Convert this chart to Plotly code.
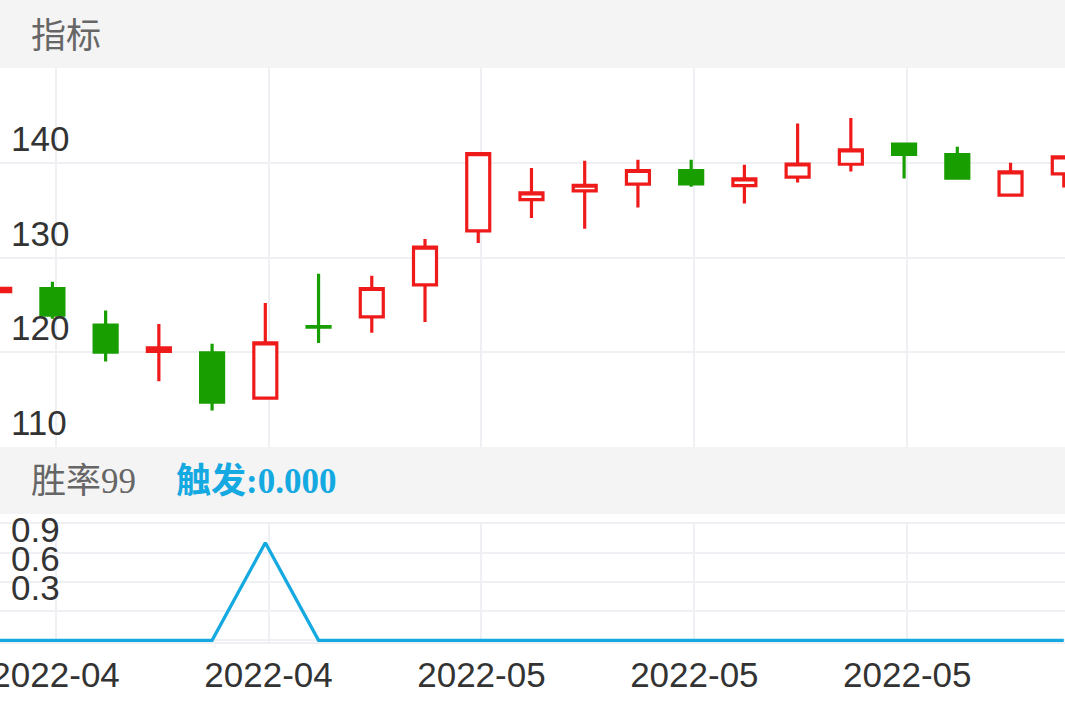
import plotly.graph_objects as go

# ---- data ----
dates = ["2022-04-19", "2022-04-20", "2022-04-21", "2022-04-22", "2022-04-25",
         "2022-04-26", "2022-04-27", "2022-04-28", "2022-04-29", "2022-05-05",
         "2022-05-06", "2022-05-09", "2022-05-10", "2022-05-11", "2022-05-12",
         "2022-05-13", "2022-05-16", "2022-05-17", "2022-05-18", "2022-05-19",
         "2022-05-20"]
opens = [126.40, 126.73, 122.85, 120.07, 119.92, 115.13, 122.70, 123.73, 127.11, 132.82,
         136.14, 137.05, 137.76, 139.21, 137.62, 138.50, 139.87, 141.99, 140.90, 136.60,
         138.85]
highs = [126.80, 127.45, 124.40, 122.98, 120.89, 125.20, 128.30, 128.08, 131.96, 141.00,
         139.47, 140.24, 140.35, 140.35, 139.82, 144.19, 144.76, 142.00, 141.72, 140.03,
         140.65]
lows = [126.40, 123.54, 119.02, 116.91, 113.84, 115.13, 120.97, 122.06, 123.20, 131.54,
        134.18, 133.05, 135.31, 137.49, 135.73, 137.95, 139.11, 138.37, 138.39, 136.60,
        137.42]
closes = [126.76, 123.91, 120.00, 120.45, 114.71, 120.98, 122.65, 126.73, 131.10, 141.00,
          136.84, 137.65, 139.21, 137.79, 138.32, 139.90, 141.39, 140.90, 138.39, 139.06,
          140.65]
win_rate = [0, 0, 0, 0, 0, 1.0, 0, 0, 0, 0, 0, 0, 0, 0, 0, 0, 0, 0, 0, 0, 0]

price_ticks = [110, 120, 130, 140]
rate_ticks = [0, 0.3, 0.6, 0.9, 1.2]
rate_tick_text = ["", "0.3", "0.6", "0.9", ""]
date_tick_index = [1, 5, 9, 13, 17]

panel_title = "指标"
rate_title = "胜率99"
trigger_text = "触发:0.000"

# ---- styles ----
RED = "#ef1b1b"
GREEN = "#199e00"
BLUE = "#14a9e1"
GRID = "#eff0f3"
BAND = "#f4f4f4"
TICK_FONT = dict(family="Liberation Sans, Arial, sans-serif", size=35, color="#333333")

W, H = 1065, 708
B = 66
PH = H - B  # paper height in px


def py(px_from_top):
    return (PH - px_from_top) / PH


xs = list(range(len(dates)))
tick_pos = [i + 0.06 for i in date_tick_index]
tick_txt = [dates[i][:7] for i in date_tick_index]

fig = go.Figure()
fig.add_trace(go.Candlestick(
    x=xs, open=opens, high=highs, low=lows, close=closes,
    increasing=dict(line=dict(color=RED, width=3.2), fillcolor="white"),
    decreasing=dict(line=dict(color=GREEN, width=3.2), fillcolor=GREEN),
    whiskerwidth=0, hoverinfo="skip", showlegend=False,
    xaxis="x", yaxis="y",
))
fig.add_trace(go.Scatter(
    x=xs, y=win_rate, mode="lines",
    line=dict(color=BLUE, width=3.3),
    hoverinfo="skip", showlegend=False,
    xaxis="x2", yaxis="y2",
))

xr = [0.0156, 20.023]
common_x = dict(range=xr, tickmode="array", tickvals=tick_pos, ticktext=tick_txt,
                showgrid=True, gridcolor=GRID, gridwidth=2.3, zeroline=False,
                ticks="", automargin=False, fixedrange=True, ticklabeloverflow="allow")

fig.update_layout(
    width=W, height=H,
    margin=dict(l=0, r=0, t=0, b=B, pad=0),
    paper_bgcolor="white", plot_bgcolor="white",
    template="none",
    boxgap=0.568, boxgroupgap=0,
    showlegend=False,
    xaxis=dict(common_x, anchor="y", showticklabels=False, showline=False,
               rangeslider=dict(visible=False)),
    xaxis2=dict(common_x, anchor="y2", showticklabels=True, tickfont=TICK_FONT,
                showline=True, linecolor=GRID, linewidth=2,
                ticklabelstandoff=1),
    yaxis=dict(domain=[py(447), py(68)], range=[109.97, 150.05],
               tickmode="array", tickvals=price_ticks,
               ticklabelposition="inside", ticklabelshift=-24, ticklabelstandoff=8,
               ticklabeloverflow="allow",
               tickfont=TICK_FONT, showgrid=True, gridcolor=GRID, gridwidth=2.3,
               zeroline=False, showline=False, ticks="", automargin=False, fixedrange=True),
    yaxis2=dict(domain=[0, py(522)], range=[-0.0174, 1.2133],
                tickmode="array", tickvals=rate_ticks, ticktext=rate_tick_text,
                ticklabelposition="inside", ticklabelshift=-23, ticklabelstandoff=8,
                ticklabeloverflow="allow",
                tickfont=TICK_FONT, showgrid=True, gridcolor=GRID, gridwidth=2.3,
                zeroline=False, showline=False, ticks="", automargin=False, fixedrange=True),
    shapes=[
        dict(type="rect", xref="paper", yref="paper", x0=0, x1=1, y0=py(68), y1=1,
             fillcolor=BAND, line=dict(width=0), layer="below"),
        dict(type="rect", xref="paper", yref="paper", x0=0, x1=1, y0=py(514), y1=py(447),
             fillcolor=BAND, line=dict(width=0), layer="below"),
    ],
    annotations=[
        dict(text=panel_title, xref="paper", yref="paper", x=29 / W, y=py(32),
             xanchor="left", yanchor="middle", showarrow=False,
             font=dict(family="Noto Sans CJK SC, sans-serif", size=35, color="#666666")),
        dict(text=rate_title, xref="paper", yref="paper", x=29 / W, y=py(481),
             xanchor="left", yanchor="middle", showarrow=False,
             font=dict(family="Liberation Serif, Noto Sans CJK SC, serif", size=35, color="#666666")),
        dict(text="<b>" + trigger_text + "</b>", xref="paper", yref="paper", x=174 / W, y=py(481),
             xanchor="left", yanchor="middle", showarrow=False,
             font=dict(family="Liberation Serif, Noto Sans CJK SC, serif", size=35, color=BLUE)),
    ],
)

fig.write_html("out.html", config={"displayModeBar": False},
               post_script="document.body.style.margin='0';document.body.style.overflow='hidden';")
